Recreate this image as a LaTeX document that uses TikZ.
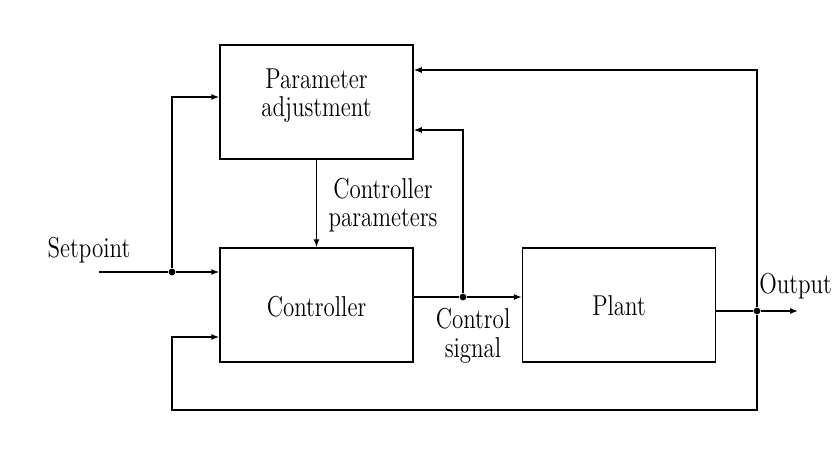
\documentclass[tikz,border=0pt]{standalone}
\usetikzlibrary{arrows.meta}
\newcommand\tx[1]{\scalebox{1}[1.25]{\fontsize{11.5}{10.8}\selectfont\begin{tabular}[b]{@{}c@{}}#1\end{tabular}}}
\begin{document}
\begin{tikzpicture}[x=0.5pt,y=-0.5pt,
  blk/.style={draw,line width=0.75pt,minimum width=96.5pt,minimum height=57pt,inner sep=0pt},
  lbl/.style={inner sep=0pt,anchor=base},
  con/.style={line width=0.65pt,-{Latex[length=4pt,width=3pt]}},
  ln/.style={line width=0.65pt},
  dot/.style={circle,fill,inner sep=0pt,minimum size=3.4pt}]
\useasboundingbox (0,0) rectangle (832,455);
\node[blk] (pa) at (316.5,102) {};
\node[blk] (ct) at (316.5,305) {};
\node[blk] (pl) at (619,305) {};
\node[lbl] (tpa) at (316.5,117) {\tx{Parameter\\adjustment}};
\node[lbl] (tct) at (316.5,316) {\tx{Controller}};
\node[lbl] (tpl) at (619,315) {\tx{Plant}};
\coordinate (sp) at (99,272);
\node[dot] (j1) at (172,272) {};
\node[dot] (j2) at (463,297) {};
\node[dot] (j3) at (757,311) {};
\coordinate (out) at (798,311);
\coordinate (b1) at (757,410);
\coordinate (b2) at (172,410);
\coordinate (t1) at (757,70);
% setpoint
\draw[ln] (sp) -- (j1);
\draw[con] (j1) -- (172,97) -- (pa.west |- 0,97);
\draw[con] (j1) -- (ct.west |- j1);
% param -> controller
\draw[con] (pa.south) -- (ct.north);
% control signal
\draw[ln] (ct.east |- j2) -- (j2);
\draw[con] (j2) -- (pl.west |- j2);
\draw[con] (j2) -- (463,130) -- (pa.east |- 0,130);
% output
\draw[ln] (pl.east |- j3) -- (j3);
\draw[con] (j3) -- (out);
\draw[con] (j3) -- (b1) -- (b2) -- (172,337) -- (ct.west |- 0,337);
\draw[con] (j3) -- (t1) -- (pa.east |- t1);
% labels
\node[lbl] (lsp) at (89,257) {\tx{Setpoint}};
\node[lbl] (lcp) at (383,226) {\tx{Controller\\parameters}};
\node[lbl] (lcs) at (473,357) {\tx{Control\\signal}};
\node[lbl,anchor=base west] (lout) at (759,293) {\tx{Output}};
\end{tikzpicture}
\end{document}
